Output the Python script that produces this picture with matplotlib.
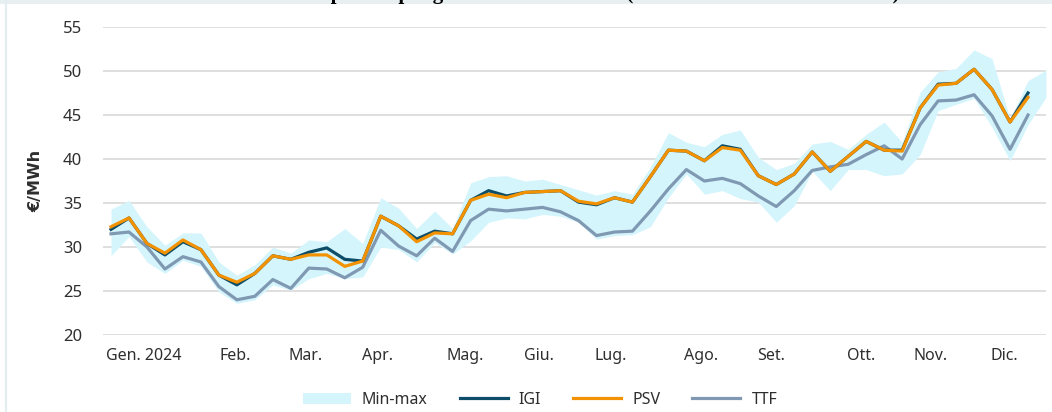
import matplotlib
matplotlib.use("Agg")
import matplotlib.pyplot as plt
from matplotlib.lines import Line2D
from matplotlib.patches import Patch, Rectangle
import numpy as np

plt.rcParams['font.family'] = ['Noto Sans', 'DejaVu Sans']

# etichette dei mesi (posizione in settimane)
mesi = ["Gen. 2024", "Feb.", "Mar.", "Apr.", "Mag.", "Giu.", "Lug.", "Ago.", "Set.", "Ott.", "Nov.", "Dic."]
pos_mesi = [1.8, 6.9, 10.8, 14.8, 19.7, 23.8, 27.8, 32.8, 36.7, 41.7, 45.6, 49.7]

# prezzi settimanali 2024, €/MWh
psv = [32.3, 33.3, 30.4, 29.3, 30.8, 29.7, 26.8, 26.0, 27.0, 29.0,
       28.6, 29.1, 29.1, 27.8, 28.4, 33.5, 32.4, 30.6, 31.6, 31.5,
       35.3, 36.0, 35.6, 36.2, 36.3, 36.4, 35.2, 34.9, 35.6, 35.1,
       38.0, 41.0, 40.9, 39.8, 41.3, 41.0, 38.1, 37.1, 38.3, 40.8,
       38.6, 40.3, 42.0, 41.0, 40.9, 45.8, 48.4, 48.6, 50.2, 47.9,
       44.2, 47.0]
igi = [32.0, 33.3, 30.4, 29.1, 30.6, 29.7, 26.8, 25.7, 27.0, 29.0,
       28.6, 29.4, 29.9, 28.6, 28.4, 33.5, 32.4, 30.9, 31.8, 31.5,
       35.3, 36.4, 35.8, 36.2, 36.3, 36.4, 35.1, 34.8, 35.6, 35.1,
       38.0, 41.0, 40.9, 39.8, 41.5, 41.1, 38.1, 37.1, 38.3, 40.8,
       38.6, 40.3, 42.0, 41.0, 41.0, 45.8, 48.5, 48.6, 50.2, 47.9,
       44.2, 47.5]
ttf = [31.5, 31.7, 30.0, 27.5, 28.9, 28.3, 25.5, 24.0, 24.4, 26.3,
       25.3, 27.6, 27.5, 26.5, 27.7, 31.9, 30.1, 29.0, 31.0, 29.5,
       33.0, 34.3, 34.1, 34.3, 34.5, 34.0, 33.0, 31.3, 31.7, 31.8,
       34.1, 36.6, 38.8, 37.5, 37.8, 37.2, 35.8, 34.6, 36.4, 38.7,
       39.1, 39.4, 40.5, 41.5, 40.0, 43.9, 46.6, 46.7, 47.3, 44.9,
       41.1, 45.0]

# banda min-max
band_max = [34.3, 35.3, 32.3, 30.2, 31.6, 31.6, 28.3, 26.8, 28.0, 30.0,
            29.3, 30.8, 30.6, 32.1, 30.4, 35.6, 34.4, 32.1, 34.1, 32.1,
            37.3, 38.0, 38.1, 37.5, 37.7, 37.1, 36.5, 35.9, 36.4, 36.0,
            39.1, 43.0, 41.9, 41.4, 42.8, 43.3, 40.2, 38.8, 39.5, 41.7,
            42.0, 41.1, 42.8, 44.2, 41.9, 47.6, 49.9, 50.3, 52.4, 51.4,
            44.6, 48.9, 50.1]
band_min = [29.0, 31.2, 28.3, 27.0, 28.5, 27.8, 24.9, 23.6, 24.0, 25.7,
            25.1, 26.4, 27.0, 26.4, 26.6, 30.0, 29.7, 28.3, 30.5, 29.2,
            30.7, 32.8, 33.3, 33.2, 33.7, 33.5, 32.8, 30.9, 31.3, 31.4,
            32.3, 35.6, 38.3, 36.0, 36.4, 35.5, 35.1, 32.8, 34.7, 38.6,
            36.4, 38.8, 38.8, 38.1, 38.3, 40.5, 45.5, 46.2, 46.9, 43.6,
            39.8, 43.9, 47.0]

sett = np.arange(len(psv))
sett_band = np.arange(len(band_max))

c_band = '#d5f5fd'
c_igi = '#0e4d67'
c_psv = '#f39200'
c_ttf = '#8099b3'
c_testo = '#2e2e2e'

W, H = 1052, 412
fig = plt.figure(figsize=(W / 100, H / 100), dpi=100)
ax = fig.add_axes([103 / W, 77 / H, (1046 - 103) / W, 308 / H])

ax.fill_between(sett_band, band_min, band_max, color=c_band, lw=0)
ax.plot(sett, ttf, color=c_ttf, lw=2.3)
ax.plot(sett, igi, color=c_igi, lw=2.3)
ax.plot(sett, psv, color=c_psv, lw=2.3)

ax.set_xlim(-0.445, 52.0)
ax.set_ylim(20, 55)
ax.set_yticks(range(20, 56, 5))
ax.set_xticks(pos_mesi)
ax.set_xticklabels(mesi)
ax.grid(axis='y', color='#dcdcdc', lw=1.3)
ax.set_axisbelow(True)
for s in ax.spines.values():
    s.set_visible(False)
ax.tick_params(axis='y', length=0, pad=15, labelsize=12, labelcolor=c_testo)
ax.tick_params(axis='x', length=0, pad=9, labelsize=11.5, labelcolor=c_testo)

ax.set_ylabel("€/MWh", fontsize=11.5, fontweight='bold', color=c_testo,
              family=['DejaVu Sans'])
ax.yaxis.set_label_coords((43 - 103) / 943, 0.5)

# legenda
handles = [Patch(facecolor=c_band, edgecolor='none', label='Min-max'),
           Line2D([], [], color=c_igi, lw=2.3, label='IGI'),
           Line2D([], [], color=c_psv, lw=2.3, label='PSV'),
           Line2D([], [], color=c_ttf, lw=2.3, label='TTF')]
leg = fig.legend(handles=handles, loc='center', bbox_to_anchor=(540 / W, 12 / H),
                 ncol=4, frameon=False, fontsize=11.5, handlelength=3.0,
                 handleheight=0.75, handletextpad=0.7, columnspacing=2.0)
for t in leg.get_texts():
    t.set_color(c_testo)

# cornice e titolo tagliato in alto
fig.add_artist(Rectangle((0, (H - 3.5) / H), 1, 3.5 / H, transform=fig.transFigure,
                         facecolor='#e7eff1', edgecolor='none', zorder=0))
fig.add_artist(Line2D([6 / W, 6 / W], [0, 1], transform=fig.transFigure,
                      color='#e4eef1', lw=1.6, zorder=0))
fig.text(560 / W, 1 + 0.5 / H,
         "Andamento prezzi spot gas naturale nel 2024 (medie settimanali nei tre hub)",
         ha='center', va='baseline', family=['Liberation Serif'], fontweight='bold',
         fontsize=15, color='black')

fig.savefig("out.png", dpi=100)
